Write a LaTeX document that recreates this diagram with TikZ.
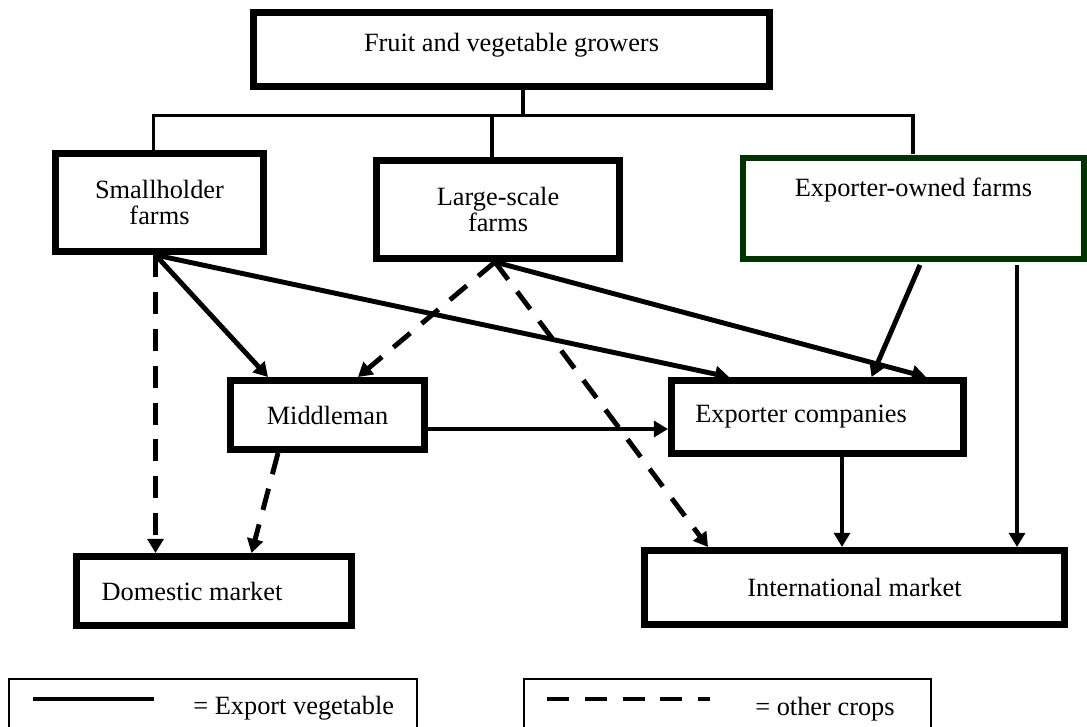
\documentclass[tikz,border=0pt]{standalone}
\usepackage{fontspec}
\setmainfont{Liberation Serif}
\usetikzlibrary{arrows.meta,calc}
\definecolor{farmgreen}{RGB}{0,51,0}

\begin{document}
\begin{tikzpicture}[x=0.02cm, y=-0.02cm,
    font=\fontsize{15}{14.5}\selectfont,
    box/.style={draw, line width=4pt, inner sep=0pt},
    tree/.style={line width=1.8pt},
    flow/.style={line width=2.8pt, -{Triangle[length=8pt,width=9pt]}},
    other/.style={flow, dash pattern=on 12.5pt off 8.5pt}]
    \useasboundingbox (0,0) rectangle (1087,726);
    \clip (0,0) rectangle (1087,726);

    % boxes
    \node[box, minimum width=10.32cm, minimum height=1.48cm, text height=10.5pt, text depth=8.4pt] (fvg) at (511.5,49.5) {Fruit and vegetable growers};
    \node[box, align=center, minimum width=4.16cm, minimum height=1.96cm] (sh) at (159.5,202.5) {Smallholder\\farms};
    \node[box, align=center, minimum width=4.86cm, minimum height=1.96cm] (ls) at (498,209.5) {Large-scale\\farms};
    \node[box, draw=farmgreen, line width=3.4pt, minimum width=6.82cm, minimum height=2.02cm, text height=10.5pt, text depth=24pt] (eo) at (913.5,208.5) {Exporter-owned farms};
    \node[box, minimum width=3.88cm, minimum height=1.38cm] (mm) at (327.5,415) {Middleman};
    \node[box, minimum width=5.84cm, minimum height=1.46cm] (ec) at (817.5,417) {Exporter companies\kern0.66cm};
    \node[box, minimum width=5.5cm, minimum height=1.38cm] (dm) at (214,591) {Domestic market\kern0.88cm};
    \node[box, minimum width=8.4cm, minimum height=1.48cm] (im) at (854.5,587.5) {International market};

    % tree from the growers
    \coordinate (bus) at ($(fvg.south)+(11.5,25.5)$);
    \draw[tree] ($(fvg.south)+(11.5,0)$) -- (bus);
    \draw[tree] ($(sh.north)+(-6,0)$) |- (bus) -| ($(eo.north)+(-0.5,-1.5)$);
    \draw[tree] (bus) -| ($(ls.north)+(-6,0)$);

    % flows
    \coordinate (shout) at ($(sh.south)+(-4,0)$);
    \coordinate (lsout) at ($(ls.south)+(-3,0)$);
    \coordinate (eoout) at ($(eo.south)+(103.5,3)$);
    \coordinate (mmout) at ($(mm.east)+(0,14)$);
    \coordinate (ecout) at ($(ec.south)+(24.5,0)$);
    \draw[other] (shout) -- (shout |- dm.north);
    \draw[flow] (shout) -- ($(mm.north west)+(41,0)$);
    \draw[flow] (shout) -- ($(ec.north west)+(61,0)$);
    \draw[other] (lsout) -- ($(mm.north west)+(131,0)$);
    \draw[other] (lsout) -- ($(im.north west)+(67,0)$);
    \draw[flow] (lsout) -- ($(ec.north west)+(258,0)$);
    \draw[flow] ($(eo.south)+(6.5,3)$) -- ($(ec.north west)+(203.5,0)$);
    \draw[flow] (eoout) -- (eoout |- im.north);
    \draw[flow] (mmout) -- (mmout -| ec.west);
    \draw[other] ($(mm.south)+(-49.5,0)$) -- ($(dm.north west)+(178.5,0)$);
    \draw[flow] (ecout) -- (ecout |- im.north);

    % legend
    \draw[line width=1.1pt] (9,679) rectangle (417,740);
    \draw[line width=1.1pt] (524,679) rectangle (931,740);
    \draw[line width=2.3pt] (33,699) -- (154,699);
    \draw[line width=2.8pt, dash pattern=on 12.5pt off 9pt] (547,699) -- (710,699);
    \node[anchor=west, inner sep=0pt] (lgexp) at (193,708) {= Export vegetable};
    \node[anchor=west, inner sep=0pt] (lgoth) at (755,709) {= other crops};
\end{tikzpicture}
\end{document}
